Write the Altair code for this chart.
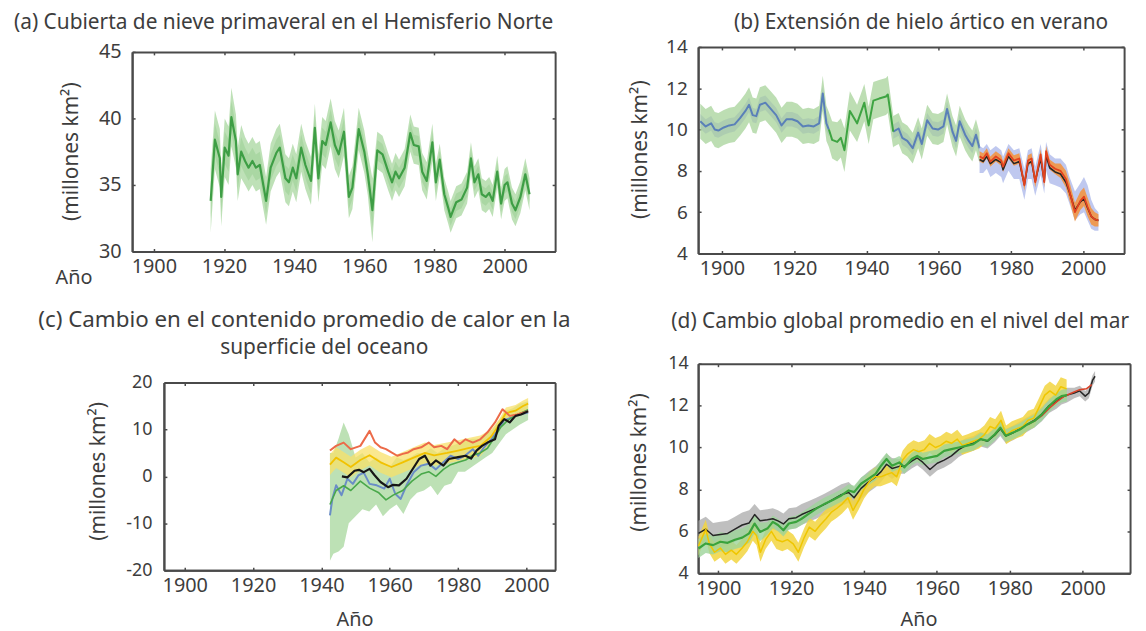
import altair as alt
import pandas as pd

# ------------------------------------------------------------------ data
YEAR_TICKS = [1900, 1920, 1940, 1960, 1980, 2000]

# (a) snow cover
A_YEAR = [1916.2, 1917.4, 1918.8, 1919.2, 1920.2, 1921.3, 1922.1, 1923.4, 1923.9, 1924.9,
          1926.0, 1927.0, 1928.1, 1929.1, 1930.2, 1931.2, 1932.0, 1933.3, 1934.9, 1935.9,
          1937.5, 1938.5, 1939.6, 1940.6, 1942.0, 1943.2, 1944.8, 1945.9, 1946.9, 1948.0,
          1949.0, 1950.4, 1951.6, 1952.7, 1954.2, 1955.6, 1956.6, 1958.4, 1960.0, 1961.0,
          1962.3, 1963.7, 1965.2, 1966.8, 1967.9, 1968.9, 1969.9, 1971.5, 1973.1, 1974.1,
          1975.5, 1976.5, 1977.8, 1979.4, 1980.4, 1981.5, 1982.8, 1983.9, 1984.6, 1986.2,
          1987.7, 1989.3, 1990.4, 1991.4, 1992.5, 1993.5, 1994.6, 1995.6, 1996.6, 1997.9,
          1999.0, 2000.0, 2000.8, 2002.1, 2003.1, 2004.5, 2005.9, 2007.1]
A_VAL = [33.8, 38.4, 37.0, 34.1, 37.8, 37.2, 40.1, 38.3, 35.8, 37.5,
         36.8, 36.3, 36.8, 36.3, 36.5, 35.0, 33.8, 36.3, 37.4, 37.8,
         35.5, 35.2, 36.3, 35.5, 37.8, 36.5, 35.3, 39.3, 35.5, 38.3,
         38.0, 39.7, 38.0, 37.3, 39.0, 34.1, 34.8, 39.2, 37.5, 35.8,
         33.1, 37.6, 37.3, 36.0, 35.2, 36.0, 35.5, 36.3, 38.9, 38.0,
         37.9, 36.0, 35.3, 38.2, 35.2, 36.9, 34.3, 33.3, 32.6, 33.7,
         33.9, 34.8, 37.0, 35.2, 35.8, 34.3, 34.1, 34.4, 33.8, 36.0,
         33.6, 35.0, 35.2, 33.6, 33.1, 34.1, 35.8, 34.3]
A_ERR = ([2.4, 2.2, 2.2, 2.2, 2.2, 2.2, 2.2, 2.0, 2.0, 2.0]
         + [1.8] * 25 + [1.6, 1.6, 1.6, 1.6, 1.6, 2.4] + [1.4] * 14 + [1.2] * 23)

# (b) arctic summer sea ice
B_BLUE1_YEAR = [1894.0, 1895.5, 1897.0, 1898.0, 1899.0, 1900.5, 1902.0, 1903.5, 1905.0, 1906.5,
                1907.5, 1908.5, 1909.5, 1910.5, 1912.0, 1913.5, 1915.0, 1916.5, 1917.9, 1919.4,
                1920.9, 1922.4, 1923.9, 1925.4, 1926.9, 1927.9, 1928.9, 1929.6]
B_BLUE1_VAL = [10.4, 10.15, 10.3, 10.0, 9.95, 10.1, 10.2, 10.25, 10.55, 10.9,
               11.2, 10.7, 10.65, 11.2, 11.3, 11.0, 10.7, 10.2, 10.5, 10.5,
               10.4, 10.15, 10.2, 10.15, 10.3, 11.75, 10.3, 10.0]
B_GREEN_YEAR = [1929.6, 1930.5, 1931.9, 1932.9, 1933.9, 1935.4, 1937.4, 1939.4, 1940.6, 1941.9,
                1943.5, 1945.4, 1945.9, 1947.4]
B_GREEN_VAL = [10.0, 9.5, 9.4, 9.6, 9.0, 10.9, 10.3, 11.3, 10.2, 11.4,
               11.5, 11.6, 11.7, 9.9]
B_BLUE2_YEAR = [1947.4, 1948.9, 1949.9, 1951.3, 1952.8, 1954.3, 1955.3, 1956.8, 1958.3, 1959.8,
                1961.3, 1962.3, 1963.8, 1964.8, 1965.8, 1967.3, 1968.3, 1969.3, 1970.3, 1971.3]
B_BLUE2_VAL = [9.9, 10.05, 9.6, 9.45, 9.1, 9.85, 9.3, 10.45, 10.05, 10.0,
               10.15, 11.0, 9.9, 9.45, 10.4, 9.75, 9.45, 9.2, 9.75, 9.1]
B_BLUE1_ERR = [0.85] * 28
B_GREEN_ERR = [0.85, 0.9, 0.95, 0.95, 1.05, 0.95, 0.9, 0.9, 0.9, 0.9, 0.9, 0.9, 0.9, 0.8]
B_BLUE2_ERR = [0.75] * 20

B_POST_YEAR = [1971.3, 1972.3, 1973.3, 1974.3, 1975.8, 1977.3, 1977.8, 1979.3, 1980.8, 1982.3,
               1983.7, 1984.7, 1985.7, 1986.7, 1988.2, 1989.2, 1989.7, 1990.7, 1992.2, 1993.7,
               1995.2, 1996.2, 1997.7, 1999.2, 2000.2, 2001.2, 2002.2, 2003.2, 2004.2]
B_RED_VAL = [8.7, 8.6, 8.85, 8.45, 8.7, 8.5, 8.2, 8.85, 8.5, 8.6,
             7.3, 8.5, 8.6, 7.45, 8.8, 7.45, 8.95, 8.3, 8.1, 8.0,
             7.6, 7.0, 6.0, 6.55, 6.75, 6.25, 5.8, 5.65, 5.6]
B_BLACK_VAL = [8.55, 8.45, 8.7, 8.35, 8.55, 8.4, 8.05, 8.7, 8.35, 8.45,
               7.35, 8.35, 8.45, 7.5, 8.6, 7.5, 8.75, 8.15, 7.95, 7.85,
               7.45, 6.95, 6.1, 6.5, 6.65, 6.2, 5.8, 5.65, 5.6]
B_BLUEBAND_LO = [7.9, 7.9, 8.1, 7.7, 7.9, 7.7, 7.4, 8.0, 7.6, 7.6,
                 6.6, 7.6, 7.6, 6.8, 7.8, 6.9, 8.0, 7.4, 7.3, 7.2,
                 6.9, 6.4, 5.6, 5.9, 6.0, 5.6, 5.2, 5.1, 5.1]
B_BLUEBAND_HI = [9.2, 9.1, 9.3, 9.0, 9.2, 9.0, 8.7, 9.3, 9.0, 9.1,
                 8.1, 9.0, 9.1, 8.2, 9.3, 8.2, 9.4, 8.8, 8.6, 8.6,
                 8.3, 7.7, 7.0, 7.4, 7.7, 7.3, 6.6, 6.2, 6.0]
B_ORANGE_ERR = [0.25] * 19 + [0.35, 0.4, 0.45, 0.45, 0.45, 0.45, 0.45, 0.4, 0.35, 0.3]

# (c) ocean heat content
C_RED_YEAR = [1942.5, 1944.3, 1946.5, 1948.6, 1951.4, 1954.1, 1955.7, 1957.3, 1958.9, 1960.5,
              1962.2, 1963.8, 1965.4, 1967.0, 1969.2, 1971.4, 1973.0, 1975.1, 1976.8, 1978.9,
              1980.5, 1982.2, 1984.3, 1986.5, 1988.6, 1990.8, 1993.0, 1995.1, 1997.3, 2000.5]
C_RED_VAL = [5.5, 6.5, 7.2, 5.8, 6.5, 9.7, 7.2, 6.2, 5.8, 5.1,
             4.4, 4.8, 5.1, 5.8, 6.2, 7.2, 6.2, 6.5, 5.8, 7.9,
             6.9, 7.9, 7.2, 7.9, 9.4, 11.5, 14.3, 12.9, 13.2, 13.9]
C_YEL_YEAR = [1942.5, 1944.3, 1946.5, 1948.6, 1951.4, 1954.1, 1957.3, 1960.5, 1963.8, 1967.0,
              1970.3, 1973.0, 1976.8, 1980.0, 1983.0, 1986.5, 1989.7, 1992.0, 1994.0, 1996.8,
              1999.0, 2000.5]
C_YEL_VAL = [2.5, 4.0, 3.0, 2.0, 3.5, 4.5, 3.0, 2.0, 3.0, 4.0,
             5.0, 4.5, 5.0, 5.5, 6.0, 6.5, 8.5, 11.0, 13.5, 14.0,
             15.0, 15.5]
C_YEL_ERR = [2.2] * 16 + [1.5, 1.2, 1.2, 1.2, 1.2, 1.2]
C_BLUE_YEAR = [1942.5, 1943.2, 1944.3, 1945.9, 1947.6, 1949.2, 1950.8, 1952.4, 1954.1, 1956.2,
               1958.4, 1960.0, 1961.6, 1963.2, 1964.9, 1967.0, 1969.2, 1971.4, 1973.5, 1975.7,
               1977.8, 1980.0, 1982.2, 1984.3, 1985.9, 1987.6, 1989.7, 1991.9, 1993.5, 1995.7,
               1997.8, 2000.5]
C_BLUE_VAL = [-8.3, -4.8, -1.9, -4.0, -0.5, -1.6, 0.2, 0.8, -1.6, -1.9,
              -2.6, -0.5, -3.7, -4.8, -1.9, 0.9, 2.3, 2.7, 1.5, 3.0,
              4.4, 3.7, 4.5, 5.8, 4.4, 6.2, 7.9, 10.1, 12.0, 12.5,
              13.2, 13.6]
C_GRN_YEAR = [1942.5, 1944.3, 1946.5, 1948.6, 1951.4, 1954.1, 1956.8, 1958.9, 1961.0, 1963.8,
              1966.5, 1969.2, 1971.4, 1973.5, 1975.7, 1977.8, 1980.0, 1982.2, 1984.3, 1986.5,
              1988.6, 1990.8, 1992.5, 1994.6, 1996.8, 2000.5]
C_GRN_VAL = [-6.0, -3.0, -2.0, -3.0, -1.0, -2.5, -3.5, -5.0, -4.0, -3.0,
             -1.0, 0.5, 1.0, 0.0, 1.5, 2.5, 3.0, 3.5, 4.5, 5.0,
             6.0, 8.5, 10.5, 12.0, 13.0, 14.2]
C_BLK_YEAR = [1946.0, 1947.6, 1949.7, 1951.0, 1952.4, 1954.1, 1955.5, 1957.3, 1959.5, 1961.0,
              1962.7, 1964.9, 1967.0, 1968.6, 1970.3, 1971.9, 1973.5, 1975.7, 1977.3, 1980.0,
              1982.2, 1983.8, 1985.4, 1987.0, 1988.6, 1990.8, 1991.9, 1993.5, 1995.1, 1996.8,
              1998.4, 2000.5]
C_BLK_VAL = [0.0, -0.2, 1.2, 1.4, 0.9, 1.6, 0.3, -1.2, -2.3, -1.8,
             -1.9, -0.5, 1.9, 3.7, 4.4, 2.3, 3.4, 2.3, 3.7, 4.1,
             4.4, 3.8, 5.5, 6.5, 7.2, 7.9, 10.8, 12.2, 11.5, 12.9,
             13.2, 13.9]
C_BAND_YEAR = [1942.5, 1943.5, 1945.0, 1946.5, 1948.0, 1950.0, 1952.0, 1954.0, 1956.0, 1958.0,
               1960.0, 1962.0, 1964.0, 1966.0, 1968.0, 1970.0, 1972.0, 1974.0, 1976.0, 1978.0,
               1980.0, 1982.0, 1984.0, 1986.0, 1988.0, 1990.0, 1992.0, 1994.0, 1996.0, 1998.0,
               2000.5]
C_BAND_LO = [-18, -16.5, -16, -15, -10, -8.5, -7, -7.5, -6, -8.5,
             -7, -6, -8, -5, -3.5, -3, -2, -4, -2, -1.5,
             1, 1, 2, 3, 4, 5, 7, 9, 10, 11,
             12]
C_BAND_HI = [5, 5, 8, 11.5, 9, 4, 5, 3, 4, 3,
             2, 4, 3.5, 4, 5, 5, 6, 5, 6, 6.5,
             7, 7.5, 8, 8, 9, 10, 12, 14, 14.5, 15.5,
             16]

# (d) global mean sea level
D_GRN_YEAR = [1894.6, 1896.6, 1898.6, 1900.6, 1902.6, 1904.6, 1906.6, 1908.5, 1910.0, 1911.5,
              1913.5, 1915.0, 1916.4, 1917.9, 1919.4, 1921.4, 1922.9, 1924.9, 1926.9, 1929.3,
              1931.3, 1933.8, 1935.8, 1937.3, 1939.2, 1941.2, 1943.2, 1944.7, 1946.2, 1947.7,
              1949.7, 1951.1, 1953.1, 1954.6, 1956.1, 1958.1, 1960.1, 1962.0, 1964.0, 1966.0,
              1968.0, 1970.0, 1972.0, 1973.9, 1975.9, 1977.4, 1978.9, 1980.9, 1982.9, 1984.8,
              1986.8, 1988.8, 1990.8, 1992.8, 1994.2, 1995.7]
D_GRN_VAL = [5.18, 5.42, 5.34, 5.5, 5.45, 5.6, 5.7, 5.9, 6.37, 5.97,
             6.13, 6.45, 6.3, 6.05, 6.37, 6.45, 6.6, 6.84, 7.08, 7.32,
             7.48, 7.71, 7.95, 7.87, 8.27, 8.5, 8.74, 9.13, 9.45, 9.13,
             9.29, 9.05, 9.45, 9.6, 9.45, 9.53, 9.6, 9.84, 9.92, 10.0,
             10.08, 10.16, 10.4, 10.32, 10.63, 10.95, 10.56, 10.71, 10.87, 11.1,
             11.27, 11.58, 11.98, 12.3, 12.45, 12.5]
D_GRN_ERR = [0.45] * 10 + [0.3] * 46
D_BLK_YEAR = D_GRN_YEAR + [1997.7, 1999.2, 2000.7, 2001.7, 2002.7, 2003.4]
D_BLK_VAL = [5.9, 6.1, 5.8, 5.85, 5.9, 6.1, 6.3, 6.4, 6.8, 6.5,
             6.55, 6.6, 6.5, 6.35, 6.6, 6.65, 6.8, 6.95, 7.1, 7.3,
             7.5, 7.75, 7.85, 7.6, 8.05, 8.35, 8.6, 8.85, 9.2, 9.0,
             9.1, 9.1, 9.35, 9.5, 9.3, 8.95, 9.25, 9.4, 9.6, 9.9,
             10.1, 10.2, 10.4, 10.3, 10.6, 10.9, 10.55, 10.7, 10.9, 11.1,
             11.3, 11.6, 12.0, 12.2, 12.4, 12.5,
             12.6, 12.7, 12.45, 12.6, 13.2, 13.4]
D_BLK_ERR = [0.6] * 8 + [0.5] * 22 + [0.35] * 26 + [0.25] * 6
D_YEL_YEAR = [1894.6, 1895.6, 1896.6, 1897.6, 1899.0, 1900.6, 1902.0, 1903.6, 1905.0, 1906.6,
              1908.0, 1909.5, 1910.5, 1911.6, 1913.0, 1914.6, 1916.0, 1917.6, 1919.0, 1920.6,
              1922.0, 1923.6, 1925.0, 1926.6, 1928.0, 1929.6, 1931.0, 1932.6, 1934.0, 1935.6,
              1937.0, 1938.6, 1940.0, 1941.6, 1943.0, 1944.6, 1946.0, 1947.6, 1949.0,
              1950.6, 1952.0, 1953.6, 1955.0, 1956.6, 1958.0, 1959.6, 1961.0, 1962.6, 1964.0,
              1965.6, 1967.0, 1968.6, 1970.0, 1971.6, 1973.0, 1974.6, 1976.0, 1977.6, 1979.0,
              1980.6, 1982.0, 1983.6, 1985.0, 1986.6, 1988.0, 1989.6, 1991.0, 1992.6, 1994.0, 1995.6]
D_YEL_VAL = [5.3, 5.7, 6.1, 5.4, 5.0, 5.2, 4.9, 5.1, 4.9, 5.2,
             5.5, 6.0, 5.8, 5.0, 5.6, 6.0, 5.6, 5.5, 5.6, 5.4,
             5.0, 5.7, 6.2, 6.0, 6.3, 6.6, 6.9, 7.1, 7.3, 7.6,
             7.0, 7.5, 8.0, 8.4, 8.6, 8.6, 8.7, 8.8, 8.6,
             9.4, 9.7, 9.9, 9.8, 9.9, 10.2, 10.0, 10.1, 10.3, 10.2,
             10.4, 10.1, 10.2, 10.3, 10.4, 10.6, 11.0, 10.9, 11.3, 10.6,
             10.8, 10.9, 11.0, 11.3, 11.4, 11.9, 12.5, 12.7, 12.5, 12.9, 12.8]
D_YEL_ERR = [0.45] * 70
D_RED_YEAR = [1985.0, 1987.0, 1989.0, 1991.0, 1993.0, 1995.0, 1997.0, 1999.0, 2001.0, 2002.5]
D_RED_VAL = [11.1, 11.3, 11.55, 11.9, 12.2, 12.45, 12.6, 12.75, 12.8, 13.0]

for _a, _b in [(A_YEAR, A_VAL), (A_YEAR, A_ERR), (B_BLUE1_YEAR, B_BLUE1_VAL), (B_GREEN_YEAR, B_GREEN_VAL),
               (B_BLUE2_YEAR, B_BLUE2_VAL), (B_POST_YEAR, B_RED_VAL), (B_POST_YEAR, B_BLACK_VAL),
               (B_POST_YEAR, B_BLUEBAND_LO), (B_POST_YEAR, B_BLUEBAND_HI), (B_POST_YEAR, B_ORANGE_ERR),
               (C_RED_YEAR, C_RED_VAL), (C_YEL_YEAR, C_YEL_VAL), (C_YEL_YEAR, C_YEL_ERR),
               (C_BLUE_YEAR, C_BLUE_VAL), (C_GRN_YEAR, C_GRN_VAL), (C_BLK_YEAR, C_BLK_VAL),
               (C_BAND_YEAR, C_BAND_LO), (C_BAND_YEAR, C_BAND_HI), (D_GRN_YEAR, D_GRN_VAL),
               (D_GRN_YEAR, D_GRN_ERR), (D_BLK_YEAR, D_BLK_VAL), (D_BLK_YEAR, D_BLK_ERR),
               (D_YEL_YEAR, D_YEL_VAL), (D_YEL_YEAR, D_YEL_ERR), (D_RED_YEAR, D_RED_VAL)]:
    assert len(_a) == len(_b), (len(_a), len(_b))

# ------------------------------------------------------------------ layout / style
FONT = "Noto Sans"
TXT = "#3d3d3d"
FRAME = "#4a4a4a"
W, H = 1138, 623
OX, OY = 8, 8
YTITLE = "(millones km²)"

GEOM = {
    "a": dict(L=133, R=559, T=50, B=251, xd=[1893.8, 2014.4], yd=[30, 45], yv=[30, 35, 40, 45],
              ylf=20, ylp=11, title="(a) Cubierta de nieve primaveral en el Hemisferio Norte",
              tfs=21, tx=285, ty=20, title2=None, ax=74, ay=277, yx=72, yy=150),
    "b": dict(L=703, R=1132, T=45, B=253, xd=[1893.4, 2011.3], yd=[4, 14], yv=[4, 6, 8, 10, 12, 14],
              ylf=19, ylp=11, title="(b) Extensión de hielo ártico en verano",
              tfs=21, tx=927, ty=20, title2=None, ax=None, ay=None, yx=645, yy=148),
    "c": dict(L=165, R=559, T=383, B=572, xd=[1893.9, 2008.4], yd=[-20, 20], yv=[-20, -10, 0, 10, 20],
              ylf=18, ylp=12, title="(c) Cambio en el contenido promedio de calor en la",
              tfs=22.5, tx=306, ty=320, title2="superficie del oceano", t2x=326, t2y=348,
              ax=357, ay=622, yx=99, yy=472),
    "d": dict(L=703, R=1138, T=364, B=575, xd=[1894.5, 2013.0], yd=[4, 14], yv=[4, 6, 8, 10, 12, 14],
              ylf=18, ylp=10, title="(d) Cambio global promedio en el nivel del mar",
              tfs=21, tx=906, ty=322, title2=None, ax=925, ay=622, yx=644, yy=463),
}

COMMON = dict(grid=False, labelFlush=False, labelOverlap=False, domainColor=FRAME,
              domainWidth=2, tickColor=FRAME, tickWidth=1.5)
TITLE_STYLE = dict(titleAngle=0, titleAlign="center", titleBaseline="middle",
                   titleFont=FONT, titleColor=TXT, titleFontWeight="normal")


def x_scale(p):
    g = GEOM[p]
    return alt.Scale(domain=g["xd"], range=[g["L"] - OX, g["R"] - OX], nice=False, zero=False)


def y_scale(p):
    g = GEOM[p]
    return alt.Scale(domain=g["yd"], range=[g["B"] - OY, g["T"] - OY], nice=False, zero=False)


def x_axis(p, role):
    g = GEOM[p]
    if role == "main":
        kw = dict(orient="bottom", offset=(g["B"] - OY) - H, values=YEAR_TICKS, format="d",
                  ticks=False, tickSize=0, labelFontSize=20, labelPadding=5, labelColor=TXT,
                  labelFont=FONT, **COMMON)
        if g["ax"] is not None:
            kw.update(title="Año", titleX=g["ax"] - OX, titleY=g["ay"] - g["B"], titleAngle=0,
                      titleAlign="center", titleBaseline="middle", titleFontSize=20,
                      titleFont=FONT, titleColor=TXT, titleFontWeight="normal")
        else:
            kw.update(title=None)
        return alt.Axis(**kw)
    if role == "frame":
        # axis drawn along the top edge of the frame (ticks point inwards); carries the panel title
        return alt.Axis(orient="bottom", offset=(g["T"] - OY) - H, values=YEAR_TICKS, labels=False,
                        ticks=True, tickSize=3, title=g["title"], titleX=g["tx"] - OX,
                        titleY=g["ty"] - g["T"], titleFontSize=g["tfs"], **TITLE_STYLE, **COMMON)
    # axis along the bottom edge with inward ticks; carries a second title line if any
    kw = dict(orient="top", offset=-(g["B"] - OY), values=YEAR_TICKS, labels=False,
              ticks=True, tickSize=3, **COMMON)
    if g["title2"]:
        kw.update(title=g["title2"], titleX=g["t2x"] - OX, titleY=g["t2y"] - g["B"],
                  titleFontSize=21, **TITLE_STYLE)
    else:
        kw.update(title=None)
    return alt.Axis(**kw)


def y_axis(p, role):
    g = GEOM[p]
    if role == "main":
        return alt.Axis(orient="left", offset=-(g["L"] - OX), values=g["yv"], ticks=False, tickSize=0,
                        labelFontSize=g["ylf"], labelPadding=g["ylp"], labelColor=TXT, labelFont=FONT,
                        labelExpr="datum.value < 0 ? '-' + (-datum.value) : '' + datum.value",
                        title=YTITLE, titleX=g["yx"] - g["L"], titleY=g["yy"] - OY, titleAngle=270,
                        titleAlign="center", titleBaseline="middle", titleFontSize=21,
                        titleFont=FONT, titleColor=TXT, titleFontWeight="normal", **COMMON)
    if role == "frame":
        return alt.Axis(orient="left", offset=-(g["R"] - OX), values=g["yv"], labels=False,
                        ticks=True, tickSize=3, title=None, **COMMON)
    return alt.Axis(orient="right", offset=(g["L"] - OX) - W, values=g["yv"], labels=False,
                    ticks=True, tickSize=3, title=None, **COMMON)


def enc_xy(p, role, yfield="v"):
    if role is None:
        return dict(x=alt.X("year:Q", scale=x_scale(p), axis=None),
                    y=alt.Y(yfield + ":Q", scale=y_scale(p), axis=None))
    return dict(x=alt.X("year:Q", scale=x_scale(p), axis=x_axis(p, role)),
                y=alt.Y(yfield + ":Q", scale=y_scale(p), axis=y_axis(p, role)))


def band(p, role, years, lo, hi, color, opacity, seg=None):
    df = pd.DataFrame({"year": years, "lo": lo, "hi": hi})
    e = enc_xy(p, role, "lo")
    ch = alt.Chart(df).mark_area(color=color, opacity=opacity)
    if seg is not None:
        df["seg"] = seg
        ch = alt.Chart(df).mark_area(color=color, opacity=opacity)
        return ch.encode(x=e["x"], y=e["y"], y2="hi:Q", detail="seg:N")
    return ch.encode(x=e["x"], y=e["y"], y2="hi:Q")


def band_err(p, role, years, vals, err, color, opacity, seg=None):
    lo = [v - e for v, e in zip(vals, err)]
    hi = [v + e for v, e in zip(vals, err)]
    return band(p, role, years, lo, hi, color, opacity, seg)


def line(p, role, years, vals, color, width, seg=None):
    df = pd.DataFrame({"year": years, "v": vals})
    if seg is not None:
        df["seg"] = seg
    e = enc_xy(p, role)
    ch = alt.Chart(df).mark_line(color=color, strokeWidth=width, strokeJoin="round")
    if seg is not None:
        return ch.encode(x=e["x"], y=e["y"], detail="seg:N")
    return ch.encode(x=e["x"], y=e["y"])


layers = []

# ---- (a)
layers.append(band_err("a", "main", A_YEAR, A_VAL, A_ERR, "#b3dcaa", 0.85))
layers.append(band_err("a", "ticks", A_YEAR, A_VAL, [e * 0.55 for e in A_ERR], "#93cc8c", 0.45))
layers.append(line("a", "frame", A_YEAR, A_VAL, "#3e9e45", 2.2))

# ---- (b)
b_pre_year = B_BLUE1_YEAR + B_GREEN_YEAR + B_BLUE2_YEAR
b_pre_val = B_BLUE1_VAL + B_GREEN_VAL + B_BLUE2_VAL
b_pre_err = B_BLUE1_ERR + B_GREEN_ERR + B_BLUE2_ERR
b_blue_seg = ["s1"] * len(B_BLUE1_YEAR) + ["s2"] * len(B_BLUE2_YEAR)
layers.append(band_err("b", "main", b_pre_year, b_pre_val, b_pre_err, "#add6a0", 0.8))
layers.append(band_err("b", None, B_BLUE1_YEAR + B_BLUE2_YEAR, B_BLUE1_VAL + B_BLUE2_VAL,
                       [0.35] * len(b_blue_seg), "#8fb0ac", 0.35, seg=b_blue_seg))
layers.append(line("b", "frame", B_BLUE1_YEAR + B_BLUE2_YEAR, B_BLUE1_VAL + B_BLUE2_VAL, "#5a80b8", 2.0,
                   seg=b_blue_seg))
layers.append(line("b", "ticks", B_GREEN_YEAR, B_GREEN_VAL, "#3ea442", 2.0))
layers.append(band("b", None, B_POST_YEAR, B_BLUEBAND_LO, B_BLUEBAND_HI, "#aab6ea", 0.75))
layers.append(band_err("b", None, B_POST_YEAR, B_RED_VAL, B_ORANGE_ERR, "#f5923a", 0.85))
layers.append(line("b", None, B_POST_YEAR, B_BLACK_VAL, "#262626", 1.6))
layers.append(line("b", None, B_POST_YEAR, B_RED_VAL, "#e2421f", 1.8))

# ---- (c)
layers.append(band("c", "main", C_BAND_YEAR, C_BAND_LO, C_BAND_HI, "#acdaa2", 0.8))
layers.append(band_err("c", "frame", C_YEL_YEAR, C_YEL_VAL, C_YEL_ERR, "#f8e06a", 0.75))
layers.append(line("c", "ticks", C_BLUE_YEAR, C_BLUE_VAL, "#6a8dc6", 2.0))
layers.append(line("c", None, C_GRN_YEAR, C_GRN_VAL, "#49a84a", 1.6))
layers.append(line("c", None, C_YEL_YEAR, C_YEL_VAL, "#f2c200", 1.8))
layers.append(line("c", None, C_RED_YEAR, C_RED_VAL, "#ec6a48", 2.0))
layers.append(line("c", None, C_BLK_YEAR, C_BLK_VAL, "#161616", 2.2))

# ---- (d)
layers.append(band_err("d", "main", D_BLK_YEAR, D_BLK_VAL, D_BLK_ERR, "#a9a9a9", 0.75))
layers.append(band_err("d", "frame", D_YEL_YEAR, D_YEL_VAL, D_YEL_ERR, "#f2d53f", 0.85))
layers.append(band_err("d", "ticks", D_GRN_YEAR, D_GRN_VAL, D_GRN_ERR, "#9ed59a", 0.8))
layers.append(line("d", None, D_BLK_YEAR, D_BLK_VAL, "#262626", 1.5))
layers.append(line("d", None, D_YEL_YEAR, D_YEL_VAL, "#efc600", 1.5))
layers.append(line("d", None, D_RED_YEAR, D_RED_VAL, "#d9442a", 1.6))
layers.append(line("d", None, D_GRN_YEAR, D_GRN_VAL, "#3aa33c", 2.2))

chart = (
    alt.layer(*layers)
    .resolve_scale(x="independent", y="independent")
    .resolve_axis(x="independent", y="independent")
    .properties(width=W, height=H, padding=0, background="white",
                autosize=alt.AutoSizeParams(type="none"))
    .configure_view(stroke=None)
    .configure_axis(labelFont=FONT, titleFont=FONT, labelColor=TXT, titleColor=TXT)
)

chart.save("out.html", embed_options={"renderer": "svg", "actions": False})
